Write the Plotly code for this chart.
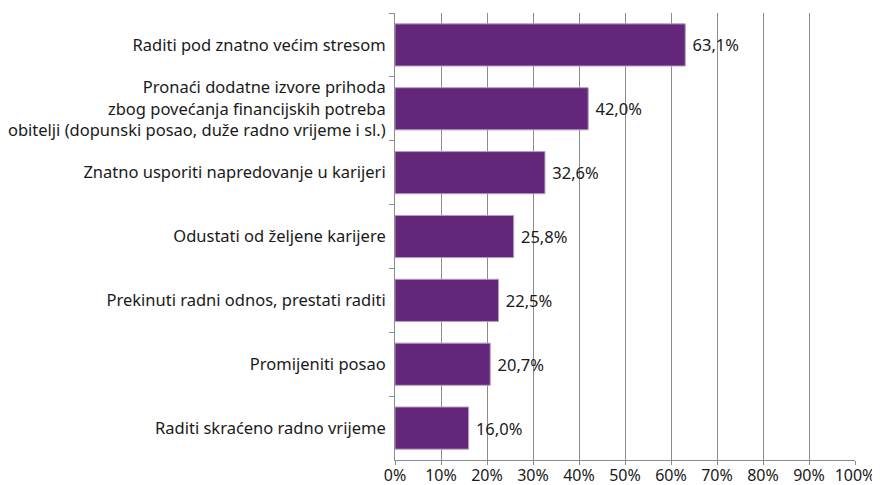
import plotly.graph_objects as go

categories = [
    "Raditi pod znatno većim stresom",
    "Pronaći dodatne izvore prihoda<br>zbog povećanja financijskih potreba<br>obitelji (dopunski posao, duže radno vrijeme i sl.)",
    "Znatno usporiti napredovanje u karijeri",
    "Odustati od željene karijere",
    "Prekinuti radni odnos, prestati raditi",
    "Promijeniti posao",
    "Raditi skraćeno radno vrijeme",
]
values = [63.1, 42.0, 32.6, 25.8, 22.5, 20.7, 16.0]
value_labels = ["63,1%", "42,0%", "32,6%", "25,8%", "22,5%", "20,7%", "16,0%"]
tick_vals = [0, 10, 20, 30, 40, 50, 60, 70, 80, 90, 100]
tick_text = [f"{v}%" for v in tick_vals]

FONT = "Noto Sans"
# the page body has an 8px default margin; compensate so the plot lands where the reference has it
OFF = 8

fig = go.Figure(go.Bar(
    x=values, y=categories, orientation="h",
    marker=dict(color="#63267a", line=dict(color="#b49cc0", width=1)),
    text=value_labels, texttemplate=" %{text}", textposition="outside",
    textfont=dict(family=FONT, size=16.5, color="#1a1a1a"),
    width=0.66, cliponaxis=False,
))

fig.update_layout(
    width=880, height=485,
    margin=dict(l=395 - OFF, r=25 + OFF, t=13 - OFF, b=25 + OFF),
    paper_bgcolor="white", plot_bgcolor="white",
    font=dict(family=FONT, size=16.5, color="#1a1a1a"),
    showlegend=False,
    xaxis=dict(range=[0, 100], tickvals=tick_vals, ticktext=tick_text,
               showgrid=True, gridcolor="#8c8c8c", gridwidth=1,
               showline=True, linecolor="#8c8c8c", linewidth=1,
               ticks="outside", ticklen=4, tickcolor="#8c8c8c",
               tickfont=dict(size=16), zeroline=False, automargin=False,
               ticklabelstandoff=-3),
    yaxis=dict(autorange="reversed", showline=True, linecolor="#8c8c8c", linewidth=1,
               ticks="outside", ticklen=5, tickcolor="#8c8c8c", tickson="boundaries",
               tickfont=dict(size=16.5), showgrid=False, automargin=False,
               ticklabelstandoff=5),
)

fig.write_html("out.html")
